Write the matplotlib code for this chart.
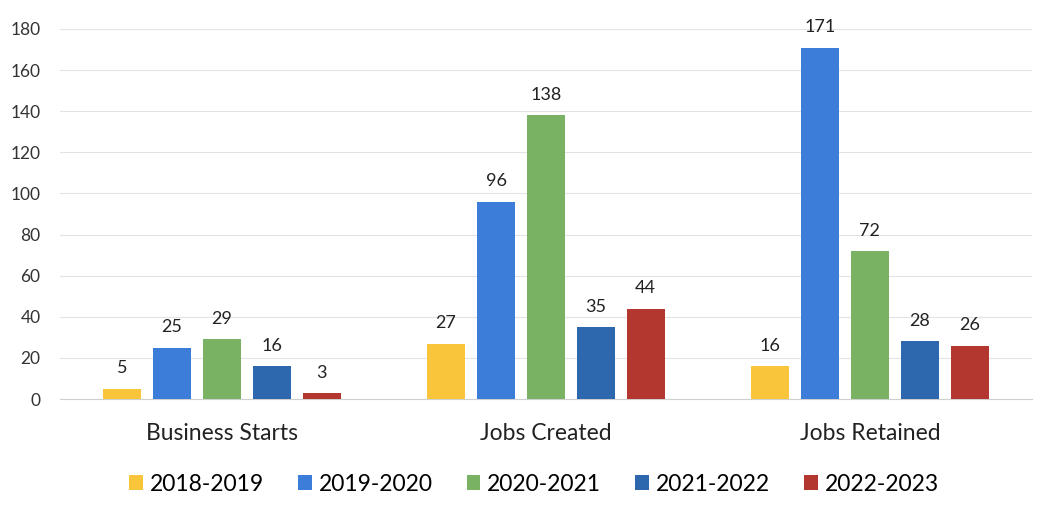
import numpy as np
import matplotlib.pyplot as plt

categories = ['Business Starts', 'Jobs Created', 'Jobs Retained']
years = ['2018-2019', '2019-2020', '2020-2021', '2021-2022', '2022-2023']
v_2018 = [5, 27, 16]
v_2019 = [25, 96, 171]
v_2020 = [29, 138, 72]
v_2021 = [16, 35, 28]
v_2022 = [3, 44, 26]
series = [v_2018, v_2019, v_2020, v_2021, v_2022]
colors = ['#F9C63B', '#3B7DD8', '#78B262', '#2D68AE', '#B3372F']

plt.rcParams['font.family'] = ['Lato', 'DejaVu Sans']

fig = plt.figure(figsize=(10.45, 5.16), dpi=100)
ax = fig.add_axes([0.0574, 0.2267, 0.93, 0.7171])

x = np.arange(len(categories))
step = 0.154
width = 0.118
for i, (vals, c, lab) in enumerate(zip(series, colors, years)):
    pos = x + (i - 2) * step
    bars = ax.bar(pos, vals, width, color=c, label=lab, zorder=3)
    for b, v in zip(bars, vals):
        ax.text(b.get_x() + b.get_width() / 2, v + 6, str(v),
                ha='center', va='bottom', fontsize=13, color='#222222')

ax.set_xlim(-0.5, 2.5)
ax.set_ylim(0, 180)
ax.set_yticks(range(0, 181, 20))
ax.set_xticks(x)
ax.set_xticklabels(categories, fontsize=16.5, color='#222222')
ax.tick_params(axis='x', length=0, pad=17)
ax.tick_params(axis='y', length=0, labelsize=12.5, colors='#333333', pad=14)
ax.grid(axis='y', color='#E3E3E3', linewidth=0.8, zorder=0)
for s in ['top', 'right', 'left']:
    ax.spines[s].set_visible(False)
ax.spines['bottom'].set_color('#D0D0D0')

fig.legend(loc='center', bbox_to_anchor=(0.511, 0.062), ncol=5, frameon=False,
           fontsize=16.5, handlelength=0.6, handleheight=0.6, handletextpad=0.3,
           columnspacing=1.48)

fig.savefig('out.png', dpi=100, facecolor='white')
